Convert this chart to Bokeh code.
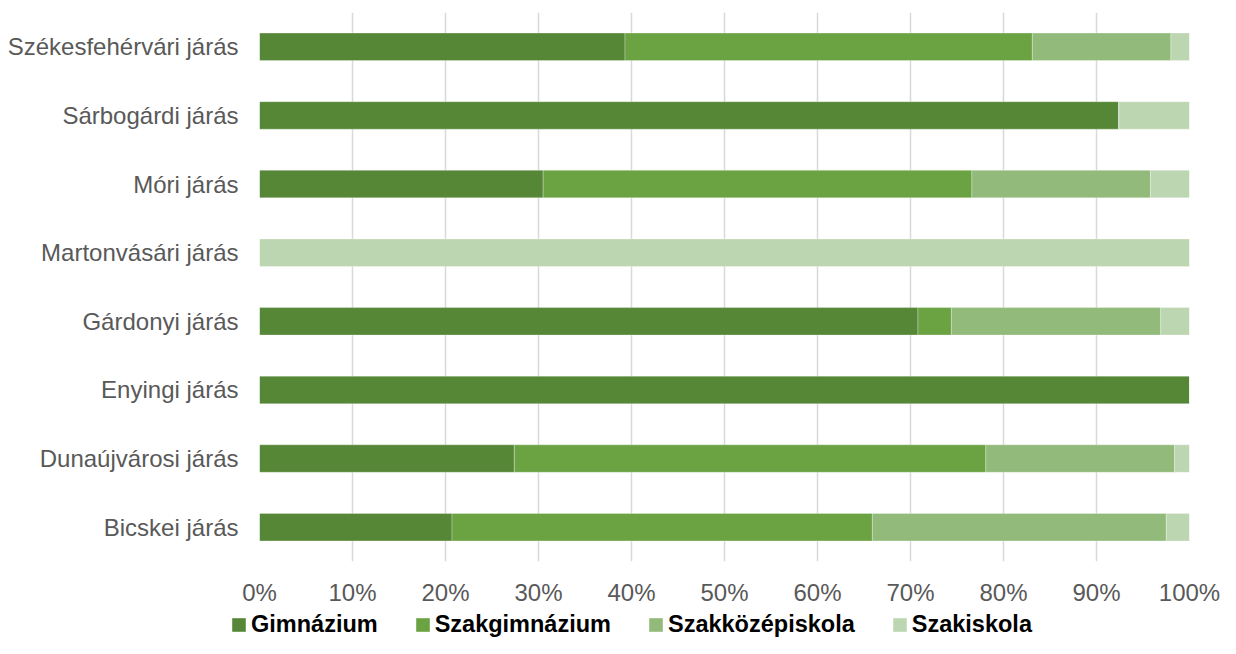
from bokeh.plotting import figure
from bokeh.layouts import column
from bokeh.models import FactorRange, Range1d, Legend, LegendItem, FixedTicker, ColumnDataSource
from bokeh.embed import file_html
from bokeh.resources import INLINE

categories = ["Székesfehérvári járás", "Sárbogárdi járás", "Móri járás", "Martonvásári járás",
              "Gárdonyi járás", "Enyingi járás", "Dunaújvárosi járás", "Bicskei járás"]
series_names = ["Gimnázium", "Szakgimnázium", "Szakközépiskola", "Szakiskola"]
gimnazium = [39.3, 92.4, 30.5, 0.0, 70.8, 100.0, 27.4, 20.7]
szakgimnazium = [43.8, 0.0, 46.1, 0.0, 3.6, 0.0, 50.7, 45.2]
szakkozepiskola = [14.9, 0.0, 19.2, 0.0, 22.5, 0.0, 20.3, 31.6]
szakiskola = [2.0, 7.6, 4.2, 100.0, 3.1, 0.0, 1.6, 2.5]
x_ticks = [0, 10, 20, 30, 40, 50, 60, 70, 80, 90, 100]
colors = ["#568737", "#6BA343", "#92BB7B", "#BDD6B2"]

source = ColumnDataSource(dict(cat=categories, g=gimnazium, sg=szakgimnazium,
                               sk=szakkozepiskola, si=szakiskola))

p = figure(width=1220, height=608, output_backend="svg", toolbar_location=None,
           y_range=FactorRange(*list(reversed(categories))), x_range=Range1d(0, 100),
           min_border_left=259, min_border_right=31, min_border_top=12, min_border_bottom=44)
p.outline_line_color = None
p.background_fill_color = "white"
p.border_fill_color = "white"
p.frame_align = False

rs = p.hbar_stack(["g", "sg", "sk", "si"], y="cat", height=0.4, color=colors, source=source,
                  line_color="white", line_alpha=0.35, line_width=0.8)

p.xaxis.ticker = FixedTicker(ticks=x_ticks)
p.xaxis.major_label_overrides = {t: f"{t}%" for t in x_ticks}
p.xaxis.axis_line_color = None
p.xaxis.major_tick_line_color = None
p.xaxis.minor_tick_line_color = None
p.xaxis.major_tick_out = 0
p.xaxis.major_tick_in = 0
p.xaxis.minor_tick_out = 0
p.xaxis.major_label_standoff = 17
p.xaxis.major_label_text_font = "Liberation Sans"
p.xaxis.major_label_text_font_size = "24px"
p.xaxis.major_label_text_color = "#595959"

p.yaxis.axis_line_color = None
p.yaxis.major_tick_line_color = None
p.yaxis.minor_tick_line_color = None
p.yaxis.major_tick_out = 0
p.yaxis.major_tick_in = 0
p.yaxis.major_label_standoff = 21
p.yaxis.major_label_text_font = "Liberation Sans"
p.yaxis.major_label_text_font_size = "24px"
p.yaxis.major_label_text_color = "#595959"

p.ygrid.grid_line_color = None
p.xgrid.grid_line_color = "#D9D9D9"
p.xgrid.grid_line_width = 1.5

# legend strip below the chart; its bars use categories not in its range, so only the legend shows
lg = figure(width=1220, height=30, output_backend="svg", toolbar_location=None,
            x_range=Range1d(0, 100), y_range=FactorRange("legend"),
            x_axis_type=None, y_axis_type=None,
            min_border_left=0, min_border_right=0, min_border_top=0, min_border_bottom=0)
lg.frame_align = False
lg.outline_line_color = None
lg.grid.visible = False
lg_renderers = lg.hbar_stack(["g", "sg", "sk", "si"], y="cat", height=0.4, color=colors,
                             source=source, line_color=None)
items = [LegendItem(label=n, renderers=[r]) for n, r in zip(series_names, lg_renderers)]
legend = Legend(items=items, orientation="horizontal", location=(230, 0),
                label_text_font="Liberation Sans", label_text_font_style="bold",
                label_text_font_size="23.5px", label_text_color="#000000",
                glyph_width=17, glyph_height=17, label_standoff=4, spacing=36,
                padding=0, margin=0, border_line_color=None, background_fill_alpha=0)
lg.add_layout(legend, "center")

layout = column(p, lg, spacing=0)
open("out.html", "w").write(file_html(layout, INLINE))
